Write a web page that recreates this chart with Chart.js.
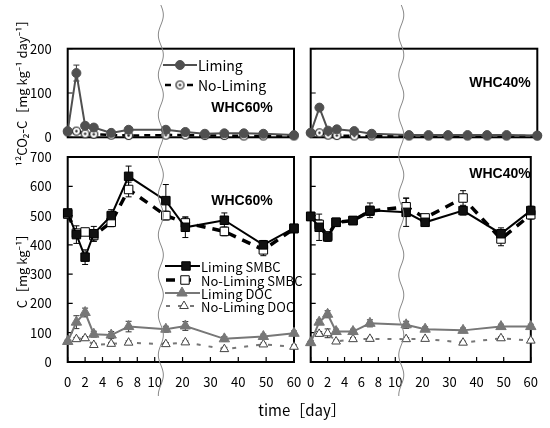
<!DOCTYPE html>
<html>
<head>
<meta charset="utf-8">
<script src="https://cdn.jsdelivr.net/npm/chart.js@4.4.0/dist/chart.umd.min.js"></script>
<style>
  body { margin: 0; background: #fff; }
  #wrap { position: relative; width: 550px; height: 428px; }
  #wrap canvas { position: absolute; left: 0; top: 0; }
</style>
</head>
<body>
<div id="wrap">
  <canvas id="co2_60" width="550" height="428"></canvas>
  <canvas id="co2_40" width="550" height="428"></canvas>
  <canvas id="c_60" width="550" height="428"></canvas>
  <canvas id="c_40" width="550" height="428"></canvas>
</div>
<script>
// sampling days
const dayCO2 = [0, 1, 2, 3, 5, 7, 14, 21, 28, 35, 42, 49, 60];
const dayC = [0, 1, 2, 3, 5, 7, 14, 21, 35, 49, 60];
const xTickDays = [0, 2, 4, 6, 8, 10, 20, 30, 40, 50, 60];
const yTicksCO2 = [0, 100, 200];
const yTicksC = [0, 100, 200, 300, 400, 500, 600, 700];

// 12CO2-C  [mg kg-1 day-1]
const co2Lim60 = [14, 145, 26, 22, 10, 17, 17, 12, 8, 9, 9, 8, 5];
const co2Lim60Err = [2, 18, 3, 3, 2, 2, 2, 2, 1, 1, 1, 1, 1];
const co2No60 = [12, 14, 8, 7, 5, 4, 5, 5, 4, 4, 3, 3, 3];
const co2No60Err = [1, 2, 1, 1, 1, 1, 1, 1, 1, 1, 1, 1, 1];
const co2Lim40 = [10, 67, 15, 18, 14, 8, 5, 5, 5, 5, 5, 5, 4];
const co2Lim40Err = [2, 4, 2, 2, 2, 1, 1, 1, 1, 1, 1, 1, 1];
const co2No40 = [10, 10, 5, 4, 3, 3, 3, 3, 3, 3, 3, 3, 3];
const co2No40Err = [1, 1, 1, 1, 1, 1, 1, 1, 1, 1, 1, 1, 1];

// C [mg kg-1], WHC60%
const smbcLim60 = [509, 435, 358, 438, 500, 634, 551, 460, 484, 400, 457];
const smbcLim60Err = [10, 30, 25, 25, 20, 35, 55, 35, 25, 15, 10];
const smbcNo60 = [505, 440, 444, 432, 477, 589, 500, 475, 446, 383, 455];
const smbcNo60Err = [10, 10, 10, 20, 15, 25, 15, 20, 15, 20, 10];
const docLim60 = [70, 136, 169, 95, 92, 121, 112, 123, 79, 87, 98];
const docLim60Err = [5, 22, 15, 10, 12, 18, 10, 15, 8, 8, 8];
const docNo60 = [70, 78, 81, 58, 62, 66, 61, 67, 44, 60, 52];
const docNo60Err = [4, 6, 6, 6, 5, 6, 5, 5, 6, 5, 6];

// C [mg kg-1], WHC40%
const smbcLim40 = [497, 460, 427, 477, 483, 518, 511, 477, 517, 438, 517];
const smbcLim40Err = [10, 45, 15, 10, 10, 25, 48, 10, 15, 20, 15];
const smbcNo40 = [497, 470, 430, 477, 483, 515, 530, 492, 560, 420, 503];
const smbcNo40Err = [10, 15, 15, 10, 10, 15, 30, 10, 25, 23, 15];
const docLim40 = [66, 136, 163, 104, 104, 132, 127, 112, 108, 121, 121];
const docLim40Err = [5, 8, 12, 8, 8, 12, 12, 8, 8, 8, 8];
const docNo40 = [66, 96, 98, 70, 78, 79, 78, 79, 66, 81, 73];
const docNo40Err = [4, 8, 15, 5, 5, 5, 5, 5, 5, 5, 5];

// broken time axis: 0-10 wide, 10-60 compressed
const BREAK_DAY = 10;
const LATE_RATIO = 0.3202;
const xt = d => d <= BREAK_DAY ? d : BREAK_DAY + (d - BREAK_DAY) * LATE_RATIO;
const X_MAX = xt(60);
const BREAK_MARK = xt(12.2);

const jpFont = "'Noto Sans CJK JP', 'Noto Sans', sans-serif";
const GRAY = '#777';
const DARK = '#505050';
Chart.defaults.color = '#000';

function series(days, vals) {
  return days.map((d, i) => ({ x: xt(d), y: vals[i] }));
}

// open circle with a dot, for No-Liming CO2
const dotCircle = document.createElement('canvas');
dotCircle.width = 11; dotCircle.height = 11;
(() => {
  const c = dotCircle.getContext('2d');
  c.fillStyle = '#fff'; c.strokeStyle = '#222'; c.lineWidth = 1.2;
  c.beginPath(); c.arc(5.5, 5.5, 4, 0, Math.PI * 2); c.fill(); c.stroke();
  c.fillStyle = '#222';
  c.beginPath(); c.arc(5.5, 5.5, 1.2, 0, Math.PI * 2); c.fill();
})();

function co2Sets(lim, limErr, no, noErr) {
  return [
    { label: 'Liming', data: series(dayCO2, lim), errors: limErr, errorColor: '#333',
      borderColor: DARK, borderWidth: 2, pointStyle: 'circle', pointRadius: 4.5,
      pointBackgroundColor: DARK, pointBorderColor: DARK, pointBorderWidth: 1 },
    { label: 'No-Liming', data: series(dayCO2, no), errors: noErr, errorColor: '#333',
      borderColor: '#000', borderWidth: 2.5, borderDash: [6, 5], pointStyle: dotCircle, pointRadius: 5,
      pointBackgroundColor: '#fff', pointBorderColor: '#222', pointBorderWidth: 1 }
  ];
}

function cSets(sLim, sLimErr, sNo, sNoErr, dLim, dLimErr, dNo, dNoErr) {
  return [
    { label: 'Liming SMBC', data: series(dayC, sLim), errors: sLimErr, errorColor: '#000',
      borderColor: '#000', borderWidth: 2, pointStyle: 'rect', pointRadius: 6,
      pointBackgroundColor: '#111', pointBorderColor: '#000', pointBorderWidth: 1 },
    { label: 'No-Liming SMBC', data: series(dayC, sNo), errors: sNoErr, errorColor: '#000',
      borderColor: '#000', borderWidth: 3.5, borderDash: [9, 7], pointStyle: 'rect', pointRadius: 6,
      pointBackgroundColor: '#fff', pointBorderColor: '#000', pointBorderWidth: 1 },
    { label: 'Liming DOC', data: series(dayC, dLim), errors: dLimErr, errorColor: '#333',
      borderColor: GRAY, borderWidth: 2, pointStyle: 'triangle', pointRadius: 6,
      pointBackgroundColor: GRAY, pointBorderColor: GRAY, pointBorderWidth: 1 },
    { label: 'No-Liming DOC', data: series(dayC, dNo), errors: dNoErr, errorColor: '#333',
      borderColor: GRAY, borderWidth: 2, borderDash: [4, 8], pointStyle: 'triangle', pointRadius: 5,
      pointBackgroundColor: '#fff', pointBorderColor: '#444', pointBorderWidth: 1 }
  ];
}

// error bars under the markers
const errorBars = {
  id: 'errorBars',
  beforeDatasetsDraw(chart) {
    const { ctx, scales: { x, y } } = chart;
    chart.data.datasets.forEach(ds => {
      if (!ds.errors) return;
      ctx.save();
      ctx.strokeStyle = ds.errorColor || '#000';
      ctx.lineWidth = 1;
      ctx.beginPath();
      ds.data.forEach((p, i) => {
        const e = ds.errors[i];
        if (!e) return;
        const px = x.getPixelForValue(p.x);
        const hi = y.getPixelForValue(p.y + e);
        const lo = y.getPixelForValue(Math.max(0, p.y - e));
        ctx.moveTo(px, hi); ctx.lineTo(px, lo);
        ctx.moveTo(px - 3, hi); ctx.lineTo(px + 3, hi);
        ctx.moveTo(px - 3, lo); ctx.lineTo(px + 3, lo);
      });
      ctx.stroke();
      ctx.restore();
    });
  }
};

// box round the plot and inward tick marks
const frame = {
  id: 'frame',
  beforeDatasetsDraw(chart, args, opts) {
    const { ctx, chartArea: a, scales: { x, y } } = chart;
    ctx.save();
    ctx.strokeStyle = '#000';
    ctx.lineWidth = 2;
    ctx.strokeRect(a.left, a.top, a.right - a.left, a.bottom - a.top);
    ctx.lineWidth = 1.2;
    ctx.beginPath();
    y.ticks.forEach(t => {
      const py = y.getPixelForValue(t.value);
      ctx.moveTo(a.left, py); ctx.lineTo(a.left + 5, py);
    });
    if (opts.xTicks) {
      x.ticks.forEach(t => {
        const px = x.getPixelForValue(t.value);
        ctx.moveTo(px, a.bottom); ctx.lineTo(px, a.bottom - 5);
      });
    }
    ctx.stroke();
    ctx.restore();
  }
};

// hand-placed legend samples
const sampleLegend = {
  id: 'sampleLegend',
  afterDatasetsDraw(chart, args, opts) {
    const ctx = chart.ctx;
    (opts.items || []).forEach(it => {
      const ds = chart.data.datasets[it.index];
      ctx.save();
      ctx.strokeStyle = ds.borderColor;
      ctx.lineWidth = ds.borderWidth;
      ctx.setLineDash(ds.borderDash || []);
      ctx.beginPath(); ctx.moveTo(it.x0, it.y); ctx.lineTo(it.x1, it.y); ctx.stroke();
      ctx.setLineDash([]);
      ctx.fillStyle = ds.pointBackgroundColor;
      ctx.strokeStyle = ds.pointBorderColor;
      ctx.lineWidth = ds.pointBorderWidth;
      Chart.helpers.drawPoint(ctx, { pointStyle: ds.pointStyle, radius: ds.pointRadius,
        rotation: 0, borderWidth: ds.pointBorderWidth }, it.mx, it.y);
      ctx.fillStyle = '#000';
      ctx.font = opts.font;
      ctx.textAlign = 'left';
      ctx.textBaseline = 'middle';
      ctx.fillText(ds.label, it.tx, it.y + 1);
      ctx.restore();
    });
  }
};

// panel labels and axis titles
const panelText = {
  id: 'panelText',
  afterDraw(chart, args, opts) {
    const ctx = chart.ctx;
    (opts.items || []).forEach(t => {
      ctx.save();
      ctx.translate(t.x, t.y);
      if (t.rot) ctx.rotate(t.rot);
      ctx.font = t.font;
      ctx.fillStyle = '#000';
      ctx.textAlign = 'center';
      ctx.textBaseline = 'middle';
      ctx.fillText(t.text, 0, 0);
      ctx.restore();
    });
  }
};

// wavy line marking the axis break
const breakMark = {
  id: 'breakMark',
  afterDraw(chart, args, opts) {
    if (!opts.show) return;
    const ctx = chart.ctx;
    const x0 = chart.scales.x.getPixelForValue(BREAK_MARK);
    ctx.save();
    ctx.strokeStyle = '#888';
    ctx.lineWidth = 1;
    ctx.beginPath();
    for (let yy = 5; yy <= 396; yy++) {
      const xx = x0 + 2.5 * Math.sin((yy - 5) / 40 * Math.PI * 2);
      if (yy === 5) ctx.moveTo(xx, yy); else ctx.lineTo(xx, yy);
    }
    ctx.stroke();
    ctx.restore();
  }
};

function panel(id, cfg) {
  const yW = 60, xH = cfg.bottomAxis ? 40 : 0;
  new Chart(document.getElementById(id), {
    type: 'line',
    data: { datasets: cfg.datasets },
    options: {
      responsive: false,
      animation: false,
      events: [],
      clip: false,
      elements: { line: { tension: 0 } },
      layout: {
        autoPadding: false,
        padding: { left: cfg.l - yW, right: 550 - cfg.r, top: cfg.t, bottom: 428 - cfg.b - xH }
      },
      datasets: { line: { clip: false } },
      scales: {
        x: {
          type: 'linear', min: 0, max: X_MAX,
          afterBuildTicks: s => { s.ticks = xTickDays.map(d => ({ value: xt(d) })); },
          afterFit: s => { s.height = xH; },
          grid: { display: false, drawTicks: false },
          border: { display: false },
          ticks: {
            display: !!cfg.bottomAxis, autoSkip: false, maxRotation: 0, padding: 12,
            font: { family: jpFont, size: 13 },
            callback: (v, i) => xTickDays[i]
          }
        },
        y: {
          min: 0, max: cfg.yTicks[cfg.yTicks.length - 1],
          afterBuildTicks: s => { s.ticks = cfg.yTicks.map(v => ({ value: v })); },
          afterFit: s => { s.width = yW; },
          grid: { display: false, drawTicks: false },
          border: { display: false },
          ticks: { display: !!cfg.yLabels, padding: 16, font: { family: jpFont, size: 13 } }
        }
      },
      plugins: {
        legend: { display: false },
        tooltip: { enabled: false },
        frame: { xTicks: !!cfg.bottomAxis },
        sampleLegend: cfg.legend || {},
        panelText: { items: cfg.texts || [] },
        breakMark: { show: !!cfg.bottomAxis }
      }
    },
    plugins: [frame, errorBars, sampleLegend, panelText, breakMark]
  });
}

const whcFont = "bold 14px 'Liberation Sans', Arial, sans-serif";

panel('co2_60', {
  l: 67.7, r: 294, t: 48.7, b: 137.3, yTicks: yTicksCO2, yLabels: true,
  datasets: co2Sets(co2Lim60, co2Lim60Err, co2No60, co2No60Err),
  legend: {
    font: '14px ' + jpFont,
    items: [
      { index: 0, y: 65, x0: 163, x1: 197, mx: 180, tx: 198 },
      { index: 1, y: 85, x0: 165, x1: 196, mx: 180, tx: 198 }
    ]
  },
  texts: [
    { text: 'WHC60%', x: 242, y: 108, font: whcFont },
    { text: '¹²CO₂-C［mg kg⁻¹ day⁻¹］', x: 22, y: 90, rot: -Math.PI / 2, font: '13px ' + jpFont }
  ]
});

panel('co2_40', {
  l: 310.7, r: 537.3, t: 48.7, b: 137.3, yTicks: yTicksCO2, yLabels: false,
  datasets: co2Sets(co2Lim40, co2Lim40Err, co2No40, co2No40Err),
  texts: [{ text: 'WHC40%', x: 500, y: 83, font: whcFont }]
});

panel('c_60', {
  l: 67.7, r: 294, t: 157, b: 362, yTicks: yTicksC, yLabels: true, bottomAxis: true,
  datasets: cSets(smbcLim60, smbcLim60Err, smbcNo60, smbcNo60Err, docLim60, docLim60Err, docNo60, docNo60Err),
  legend: {
    font: '13px ' + jpFont,
    items: [
      { index: 0, y: 266, x0: 165, x1: 200, mx: 186, tx: 201 },
      { index: 1, y: 280, x0: 166, x1: 196, mx: 185, tx: 201 },
      { index: 2, y: 293, x0: 165, x1: 200, mx: 182, tx: 201 },
      { index: 3, y: 306, x0: 166, x1: 198, mx: 184, tx: 201 }
    ]
  },
  texts: [
    { text: 'WHC60%', x: 242, y: 201, font: whcFont },
    { text: 'C［mg kg⁻¹］', x: 22, y: 268, rot: -Math.PI / 2, font: '13px ' + jpFont },
    { text: 'time［day］', x: 302, y: 410, font: '15px ' + jpFont }
  ]
});

panel('c_40', {
  l: 310.7, r: 537.3, t: 157, b: 362, yTicks: yTicksC, yLabels: false, bottomAxis: true,
  datasets: cSets(smbcLim40, smbcLim40Err, smbcNo40, smbcNo40Err, docLim40, docLim40Err, docNo40, docNo40Err),
  texts: [{ text: 'WHC40%', x: 500, y: 174, font: whcFont }]
});
</script>
</body>
</html>
